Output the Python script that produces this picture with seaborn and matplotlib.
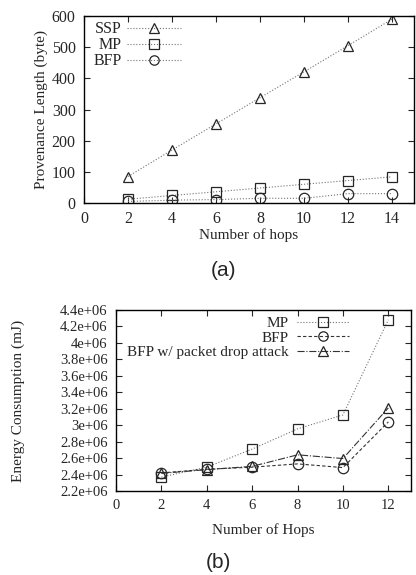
import matplotlib
matplotlib.use("Agg")
import pandas as pd
import matplotlib.pyplot as plt
import seaborn as sns
from matplotlib.ticker import FuncFormatter, MultipleLocator

# === Datos (a): longitud de proveniencia ===
hops_a = [2, 4, 6, 8, 10, 12, 14]
ssp = [85, 170, 254, 338, 421, 505, 590]
mp_a = [12, 24, 36, 48, 60, 72, 84]
bfp_a = [5, 9, 11, 15, 15, 30, 30]

# === Datos (b): consumo de energía ===
hops_b = [2, 4, 6, 8, 10, 12]
mp_b = [2.37e6, 2.49e6, 2.71e6, 2.955e6, 3.125e6, 4.28e6]
bfp_b = [2.42e6, 2.465e6, 2.49e6, 2.53e6, 2.485e6, 3.04e6]
attack_b = [2.415e6, 2.46e6, 2.50e6, 2.64e6, 2.595e6, 3.21e6]

sns.set_style("white")
plt.rcParams["font.family"] = ["Liberation Serif", "DejaVu Serif"]
plt.rcParams["font.size"] = 11

fig = plt.figure(figsize=(4.16, 5.75), dpi=100)
ax1 = fig.add_axes([0.202, 0.647, 0.793, 0.325])
ax2 = fig.add_axes([0.279, 0.146, 0.709, 0.315])

mk = dict(markerfacecolor="none", markeredgecolor="0.15", markersize=7.5,
          markeredgewidth=0.9, linewidth=0.8)

# --- (a) ---
sns.lineplot(x=hops_a, y=ssp, ax=ax1, marker="^", color="0.45", linestyle=":", label="SSP", **mk)
sns.lineplot(x=hops_a, y=mp_a, ax=ax1, marker="s", color="0.45", linestyle=":", label="MP", **mk)
sns.lineplot(x=hops_a, y=bfp_a, ax=ax1, marker="o", color="0.45", linestyle=":", label="BFP", **mk)
ax1.set_xlim(0, 15)
ax1.set_ylim(0, 600)
ax1.yaxis.set_major_locator(MultipleLocator(100))
ax1.set_xticks(range(0, 15, 2))
ax1.set_xlabel("Number of hops", labelpad=1)
ax1.set_ylabel("Provenance Length (byte)", labelpad=3)
ax1.legend(loc="upper left", bbox_to_anchor=(-0.015, 1.05), frameon=False, markerfirst=False,
           handlelength=3.4, labelspacing=0.0, handletextpad=0.3, fontsize=11.5,
           markerscale=0.9)

# --- (b) ---
sns.lineplot(x=hops_b, y=mp_b, ax=ax2, marker="s", color="0.45", linestyle=":", label="MP", **mk)
sns.lineplot(x=hops_b, y=bfp_b, ax=ax2, marker="o", color="0.2", linestyle=(0, (3, 2)), label="BFP", **mk)
sns.lineplot(x=hops_b, y=attack_b, ax=ax2, marker="^", color="0.2", linestyle="-.",
             label="BFP w/ packet drop attack", **mk)
ax2.set_xlim(0, 13)
ax2.set_ylim(2.2e6, 4.4e6)
ax2.set_xticks(range(0, 13, 2))
ax2.yaxis.set_major_locator(MultipleLocator(0.2e6))
ax2.yaxis.set_major_formatter(FuncFormatter(lambda v, p: f"{v / 1e6:g}e+06"))
ax2.set_xlabel("Number of Hops", labelpad=8)
ax2.set_ylabel("Energy Consumption (mJ)", labelpad=25)
ax2.legend(loc="upper right", bbox_to_anchor=(0.835, 1.04), frameon=False, markerfirst=False,
           handlelength=3.4, labelspacing=0.05, handletextpad=0.5, fontsize=11,
           markerscale=0.9)

for ax, ls in ((ax1, 11.5), (ax2, 10.5)):
    for s in ax.spines.values():
        s.set_color("black")
        s.set_linewidth(1.0)
    ax.tick_params(direction="in", length=4, width=0.8, top=True, right=True,
                   bottom=True, left=True, labelsize=ls, pad=6)

fig.text(223 / 416, 1 - 270 / 575, "(a)", ha="center", va="center",
         fontsize=15, family=["Liberation Sans", "DejaVu Sans"])
fig.text(218 / 416, 1 - 562 / 575, "(b)", ha="center", va="center",
         fontsize=15, family=["Liberation Sans", "DejaVu Sans"])

fig.savefig("out.png", dpi=100)
